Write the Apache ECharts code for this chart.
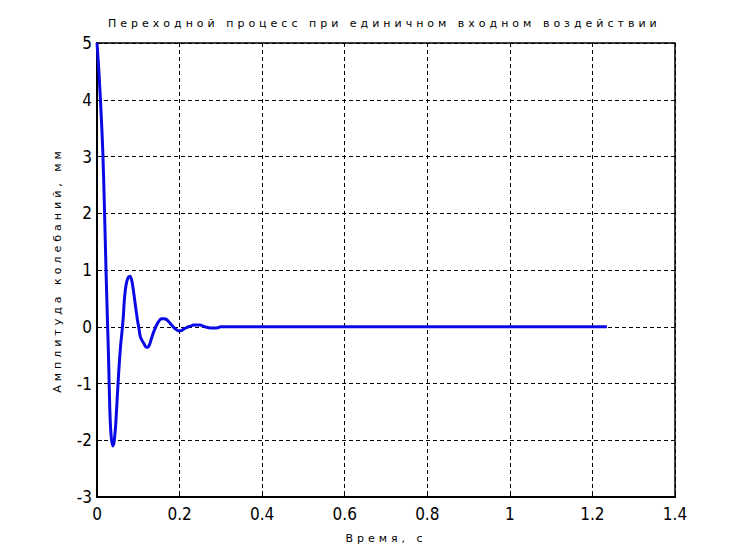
<!DOCTYPE html>
<html>
<head>
<meta charset="utf-8">
<script src="https://cdn.jsdelivr.net/npm/echarts@6/dist/echarts.min.js"></script>
<style>
html,body{margin:0;padding:0;background:#fff;}
#chart{width:746px;height:560px;}
</style>
</head>
<body>
<div id="chart"></div>
<script>
const titleText = 'Переходной процесс при единичном входном воздействии';
const xName = 'Время, с';
const yName = 'Амплитуда колебаний, мм';

const timeValues = [0.000,0.005,0.010,0.014,0.018,0.022,0.026,0.028,0.031,0.034,0.038,0.041,0.045,0.049,0.053,0.057,0.061,0.064,0.066,0.070,0.075,0.080,0.084,0.088,0.093,0.098,0.102,0.105,0.109,0.114,0.119,0.123,0.128,0.133,0.139,0.145,0.150,0.156,0.162,0.168,0.175,0.182,0.190,0.197,0.203,0.210,0.218,0.226,0.234,0.242,0.250,0.258,0.266,0.274,0.282,0.290,0.300,1.235];
const amplitudeValues = [5.00,4.45,3.75,3.10,2.10,0.95,-0.05,-0.55,-1.45,-1.90,-2.10,-2.05,-1.75,-1.25,-0.75,-0.35,-0.05,0.20,0.45,0.72,0.86,0.89,0.82,0.65,0.38,0.12,-0.05,-0.18,-0.24,-0.30,-0.36,-0.36,-0.30,-0.18,-0.06,0.04,0.10,0.14,0.14,0.13,0.08,0.02,-0.04,-0.07,-0.07,-0.04,-0.01,0.01,0.03,0.03,0.03,0.01,-0.01,-0.02,-0.02,-0.02,0.00,0.00];

const xMin = 0, xMax = 1.4, xStep = 0.2;
const yMin = -3, yMax = 5, yStep = 1;

const data = timeValues.map((t, i) => [t, amplitudeValues[i]]);

const chart = echarts.init(document.getElementById('chart'), null, {renderer: 'svg'});
const labelFont = {fontFamily: 'DejaVu Sans Condensed', fontSize: 17, color: '#000', fontWeight: 300};
const splitStyle = {show: true, lineStyle: {color: '#000', type: [4, 3], width: 1}};
chart.setOption({
  animation: false,
  backgroundColor: '#fff',
  title: {
    text: titleText,
    left: 103, top: 13,
    textStyle: {fontFamily: 'DejaVu Sans', fontSize: 11, fontWeight: 'normal', color: '#000'}
  },
  grid: {left: 97, right: 71, top: 43, bottom: 63, show: true, borderColor: '#000', borderWidth: 1.5, backgroundColor: 'transparent'},
  xAxis: {
    type: 'value', min: xMin, max: xMax, interval: xStep,
    name: xName, nameLocation: 'middle', nameGap: 36,
    nameTextStyle: {fontFamily: 'DejaVu Sans', fontSize: 11, color: '#000'},
    axisLine: {show: true, onZero: false, lineStyle: {color: '#000', width: 2}},
    axisTick: {show: true, inside: true, length: 5, lineStyle: {color: '#000'}},
    axisLabel: Object.assign({margin: 8, formatter: v => String(+v.toFixed(1))}, labelFont),
    splitLine: splitStyle
  },
  yAxis: {
    type: 'value', min: yMin, max: yMax, interval: yStep,
    name: yName, nameLocation: 'middle', nameGap: 34,
    nameTextStyle: {fontFamily: 'DejaVu Sans', fontSize: 11, color: '#000'},
    axisLine: {show: true, onZero: false, lineStyle: {color: '#000', width: 2}},
    axisTick: {show: true, inside: true, length: 5, lineStyle: {color: '#000'}},
    axisLabel: Object.assign({margin: 5}, labelFont),
    splitLine: splitStyle
  },
  series: [{
    type: 'line', data: data, showSymbol: false, smooth: 0.3,
    lineStyle: {color: '#0a0ae6', width: 3},
    z: 5
  }]
});

function spaceTexts() {
  const texts = document.querySelectorAll('#chart text');
  texts.forEach(t => {
    const s = t.textContent;
    if (s === titleText) t.style.letterSpacing = '4px';
    else if (s === xName) t.style.letterSpacing = '4px';
    else if (s === yName) t.style.letterSpacing = '4px';
  });
}
spaceTexts();
chart.on('finished', spaceTexts);
</script>
</body>
</html>
